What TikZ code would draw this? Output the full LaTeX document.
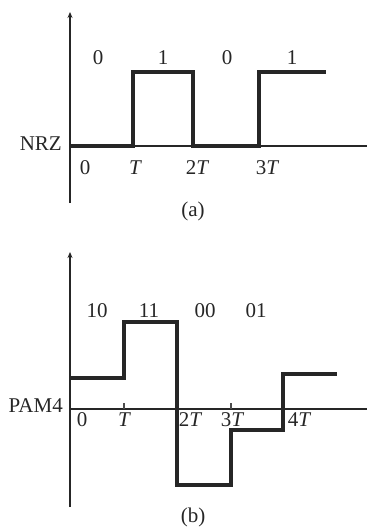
\documentclass[tikz,border=0pt]{standalone}
\usepackage{fontspec}
\setmainfont{Liberation Serif}
\usetikzlibrary{arrows.meta}
\begin{document}
\begin{tikzpicture}[x=1pt,y=-1pt,
  axis/.style={line width=2.2pt,draw=black!85},
  yaxis/.style={axis,-{Stealth[length=6pt,width=5pt]}},
  wave/.style={line width=3.2pt,draw=black!85,line join=miter},
  tick/.style={line width=1.2pt,draw=black!70},
  lbl/.style={inner sep=0pt,font=\fontsize{21}{24}\selectfont,text=black!85}]
\useasboundingbox (0,0) rectangle (369,527);

% ---- (a) NRZ ----
\coordinate (aO) at (70,146);
\coordinate (aTop) at (70,12);
\coordinate (aBot) at (70,203);
\coordinate (aEnd) at (367,146);
\draw[axis] (aBot) -- (aO);
\draw[yaxis] (aO) -- (aTop);
\draw[axis] (aO) -- (aEnd);
\draw[wave] (70,146) -- (133,146) -- (133,72) -- (193,72) -- (193,146)
  -- (259,146) -- (259,72) -- (326,72);

\node[lbl,anchor=east] (nrz) at (62,144) {NRZ};
\node[lbl] (a0) at (98,58) {0};
\node[lbl] (a1) at (163,58) {1};
\node[lbl] (a2) at (227,58) {0};
\node[lbl] (a3) at (292,58) {1};
\node[lbl] (at0) at (85,168) {0};
\node[lbl] (at1) at (135,168) {\itshape T};
\node[lbl] (at2) at (197,168) {2\itshape T};
\node[lbl] (at3) at (267,168) {3\itshape T};
\node[lbl] (capa) at (193,211) {(a)};

% ---- (b) PAM4 ----
\coordinate (bO) at (70,409);
\coordinate (bTop) at (70,252);
\coordinate (bBot) at (70,507);
\coordinate (bEnd) at (367,409);
\draw[axis] (bBot) -- (bO);
\draw[yaxis] (bO) -- (bTop);
\draw[axis] (bO) -- (bEnd);
\draw[tick] (124,403) -- (124,409);
\draw[tick] (231,403) -- (231,409);
\draw[wave] (70,378) -- (124,378) -- (124,322) -- (177,322) -- (177,485)
  -- (231,485) -- (231,430) -- (283,430) -- (283,374) -- (337,374);

\node[lbl,anchor=east] (pam) at (63,406) {PAM4};
\node[lbl] (b0) at (97,311) {10};
\node[lbl] (b1) at (149,311) {11};
\node[lbl] (b2) at (205,311) {00};
\node[lbl] (b3) at (256,311) {01};
\node[lbl] (bt0) at (82,420) {0};
\node[lbl] (bt1) at (124,420) {\itshape T};
\node[lbl] (bt2) at (190,420) {2\itshape T};
\node[lbl] (bt3) at (232,420) {3\itshape T};
\node[lbl] (bt4) at (299,420) {4\itshape T};
\node[lbl] (capb) at (193,517) {(b)};
\end{tikzpicture}
\end{document}
